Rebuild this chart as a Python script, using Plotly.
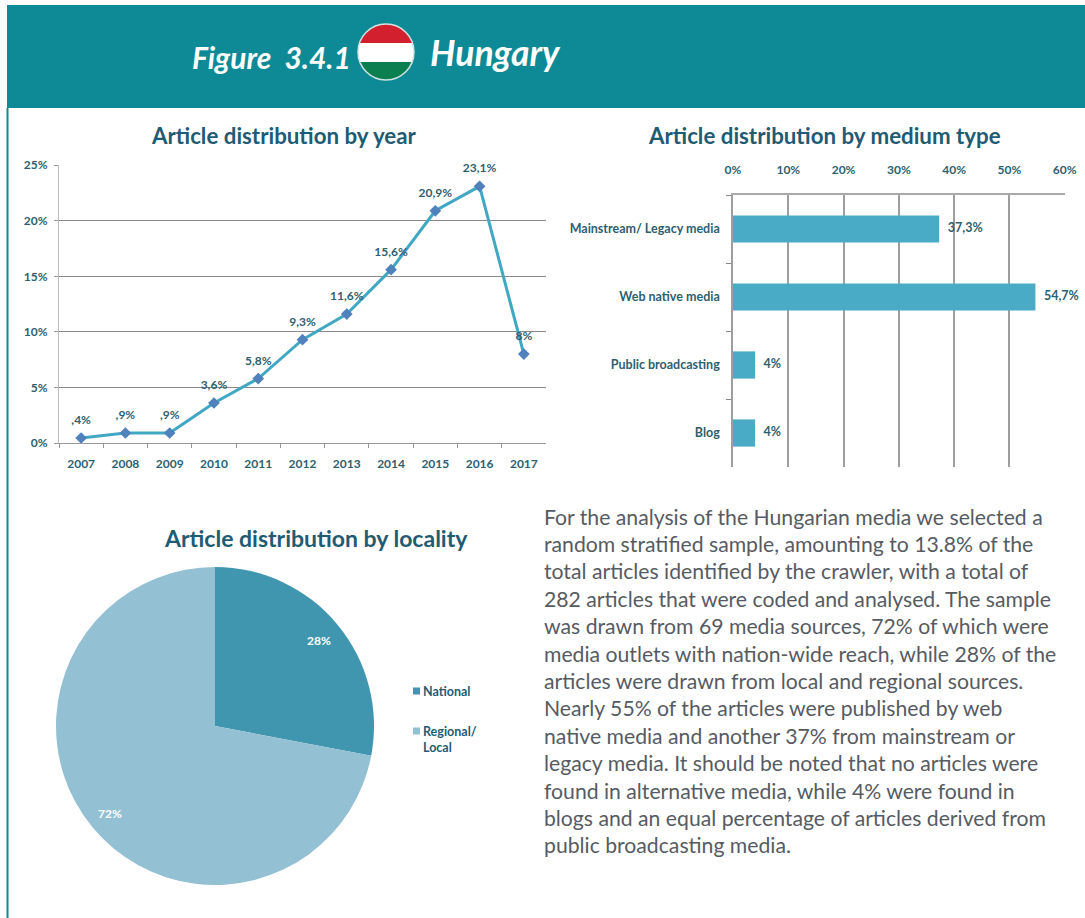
import numpy as np
import plotly.graph_objects as go

W, H = 1085, 918
FONT = "Lato"
TITLE_C = "#1F5B73"
TICK_C = "#2E5F70"
TEAL = "#0E8A96"

years = ["2007","2008","2009","2010","2011","2012","2013","2014","2015","2016","2017"]
year_vals = [0.45, 0.9, 0.9, 3.6, 5.8, 9.3, 11.6, 15.6, 20.9, 23.1, 8.0]
year_labels = [",4%", ",9%", ",9%", "3,6%", "5,8%", "9,3%", "11,6%", "15,6%", "20,9%", "23,1%", "8%"]

media = ["Mainstream/ Legacy media", "Web native media", "Public broadcasting", "Blog"]
media_vals = [37.3, 54.7, 4, 4]
media_labels = ["37,3%", "54,7%", "4%", "4%"]

locality = ["National", "Regional/<br>Local"]
locality_vals = [28, 72]
locality_colors = ["#4096AF", "#93C0D3"]

body_lines = [
    "For the analysis of the Hungarian media we selected a",
    "random stratified sample, amounting to 13.8% of the",
    "total articles identified by the crawler, with a total of",
    "282 articles that were coded and analysed. The sample",
    "was drawn from 69 media sources, 72% of which were",
    "media outlets with nation-wide reach, while 28% of the",
    "articles were drawn from local and regional sources.",
    "Nearly 55% of the articles were published by web",
    "native media and another 37% from mainstream or",
    "legacy media. It should be noted that no articles were",
    "found in alternative media, while 4% were found in",
    "blogs and an equal percentage of articles derived from",
    "public broadcasting media.",
]

def px(x): return x / W
def py(y): return 1 - y / H

fig = go.Figure()

fig.add_trace(go.Scatter(
    x=years, y=year_vals, mode="lines+markers", xaxis="x", yaxis="y", showlegend=False,
    cliponaxis=False,
    line=dict(color="#41A8C4", width=3),
    marker=dict(symbol="diamond", size=9, color="#4F81BD"),
))
fig.add_trace(go.Scatter(
    x=years, y=year_vals, mode="markers+text", text=year_labels,
    textposition="top center", xaxis="x", yaxis="y", showlegend=False, cliponaxis=False,
    textfont=dict(family=FONT, size=12, color=TICK_C, weight="bold"),
    marker=dict(size=16, opacity=0),
))

fig.add_trace(go.Bar(
    x=media_vals, y=media, orientation="h", width=0.4, xaxis="x2", yaxis="y2",
    showlegend=False, marker=dict(color="#4AABC6"),
))
fig.add_trace(go.Scatter(
    x=media_vals, y=media, mode="markers+text", text=media_labels,
    textposition="middle right", xaxis="x2", yaxis="y2", showlegend=False, cliponaxis=False,
    textfont=dict(family=FONT, size=12.5, color=TICK_C, weight="bold"),
    marker=dict(size=12, opacity=0),
))

fig.add_trace(go.Pie(
    labels=locality, values=locality_vals, sort=False, direction="clockwise", rotation=0,
    domain=dict(x=[px(56), px(374)], y=[py(885), py(567)]),
    marker=dict(colors=locality_colors), textinfo="none", showlegend=False,
))

shapes = [
    dict(type="rect", x0=px(7), x1=1, y0=py(108), y1=py(5), fillcolor=TEAL, line=dict(width=0), layer="above"),
    dict(type="line", x0=px(7.5), x1=px(7.5), y0=0, y1=py(108), line=dict(color=TEAL, width=2), layer="above"),
]

# flag emblem in the header band
cx, cy, r = 386, 52, 28
def band(y0, y1, color):
    t0 = np.arcsin(np.clip((y0 - cy) / r, -1, 1))
    t1 = np.arcsin(np.clip((y1 - cy) / r, -1, 1))
    ts = np.linspace(t0, t1, 30)
    pts = [(cx + r * np.cos(t), cy + r * np.sin(t)) for t in ts]
    pts += [(cx - r * np.cos(t), cy + r * np.sin(t)) for t in ts[::-1]]
    d = "M" + " L".join(f"{px(a):.5f},{py(b):.5f}" for a, b in pts) + " Z"
    return dict(type="path", path=d, fillcolor=color, line=dict(width=0), layer="above")
shapes += [band(24, 43, "#D2202F"), band(43, 62, "#FFFFFF"), band(62, 80, "#0B7F50")]
shapes.append(dict(type="circle", x0=px(cx-r), x1=px(cx+r), y0=py(cy+r), y1=py(cy-r),
                   line=dict(color="#CFE3E3", width=1.5), layer="above"))
for s in shapes:
    s["xref"] = "paper"
    s["yref"] = "paper"

def note(x, y, text, size, color, anchor="center", bold=True, italic=False):
    return dict(xref="paper", yref="paper", x=px(x), y=py(y), text=text, showarrow=False,
                xanchor=anchor, yanchor="middle", align=anchor if anchor != "center" else "center",
                font=dict(family=FONT, size=size, color=color,
                          weight="bold" if bold else "normal",
                          style="italic" if italic else "normal"))

ann = [
    note(190, 57, "Figure  3.4.1", 30, "white", "left", True, True),
    note(428, 53, "Hungary", 35.5, "white", "left", True, True),
    note(284, 135, "Article distribution by year", 22.3, TITLE_C),
    note(824, 135, "Article distribution by medium type", 22.3, TITLE_C),
    note(316, 538, "Article distribution by locality", 23, TITLE_C),
    note(319, 640, f"{locality_vals[0]}%", 12, "white"),
    note(110, 813, f"{locality_vals[1]}%", 12, "white"),
]
for i, line in enumerate(body_lines):
    ann.append(note(541.5, 516.5 + i * 27.4, line, 21.2, "#565B63", "left", False))

# legend for the pie
for name, colour, y_sw, y_txt in zip(locality, locality_colors, [691, 731], [691, 739]):
    shapes.append(dict(type="rect", xref="paper", yref="paper", x0=px(413), x1=px(420),
                       y0=py(y_sw + 3.5), y1=py(y_sw - 3.5), fillcolor=colour, line=dict(width=0)))
    ann.append(note(421, y_txt, name, 12.5, TITLE_C, "left"))

fig.update_layout(
    template="none",
    width=W, height=H, margin=dict(l=0, r=0, t=0, b=0, pad=0),
    paper_bgcolor="white", plot_bgcolor="white",
    shapes=shapes, annotations=ann,
    font=dict(family=FONT, color=TICK_C),
    xaxis=dict(domain=[px(59), px(546)], type="category", tickson="boundaries", automargin=False,
               range=[-0.5, 10.5], showgrid=False, ticks="outside", ticklen=4,
               tickcolor="#999999", showline=True, linecolor="#999999", linewidth=1,
               ticklabelstandoff=10,
               tickfont=dict(size=12, color=TICK_C, weight="bold", family=FONT), anchor="y"),
    yaxis=dict(domain=[py(443), py(165)], range=[0, 25.02], tickvals=[0, 5, 10, 15, 20, 25], automargin=False,
               ticktext=["0%", "5%", "10%", "15%", "20%", "25%"], showgrid=True,
               gridcolor="#8A8A8A", gridwidth=1, zeroline=False, showline=True,
               linecolor="#BBBBBB", linewidth=1, ticks="outside", ticklen=4, tickcolor="#999999",
               ticklabelstandoff=4,
               tickfont=dict(size=12, color=TICK_C, weight="bold", family=FONT), anchor="x"),
    xaxis2=dict(domain=[px(733), px(1065)], range=[0, 60.05], side="top", anchor="y2", automargin=False,
                tickvals=[0, 10, 20, 30, 40, 50, 60],
                ticktext=["0%", "10%", "20%", "30%", "40%", "50%", "60%"],
                showgrid=True, gridcolor="#9E9E9E", gridwidth=1.5, zeroline=False,
                showline=True, linecolor="#AAAAAA", linewidth=2, ticks="", ticklabelstandoff=14,
                tickfont=dict(size=12, color=TICK_C, weight="bold", family=FONT)),
    yaxis2=dict(domain=[py(467), py(195)], type="category", autorange="reversed", automargin=False,
                tickson="boundaries", anchor="x2", ticks="outside", ticklen=5,
                tickcolor="#888888", showgrid=False, showline=True, linecolor="#9E9E9E",
                linewidth=1.5, ticklabelstandoff=9,
                tickfont=dict(size=12.5, color=TICK_C, weight="bold", family=FONT)),
    showlegend=False,
)

fig.write_html("out.html", config=dict(displayModeBar=False),
               post_script="document.body.style.margin='0';document.body.style.overflow='hidden';")
